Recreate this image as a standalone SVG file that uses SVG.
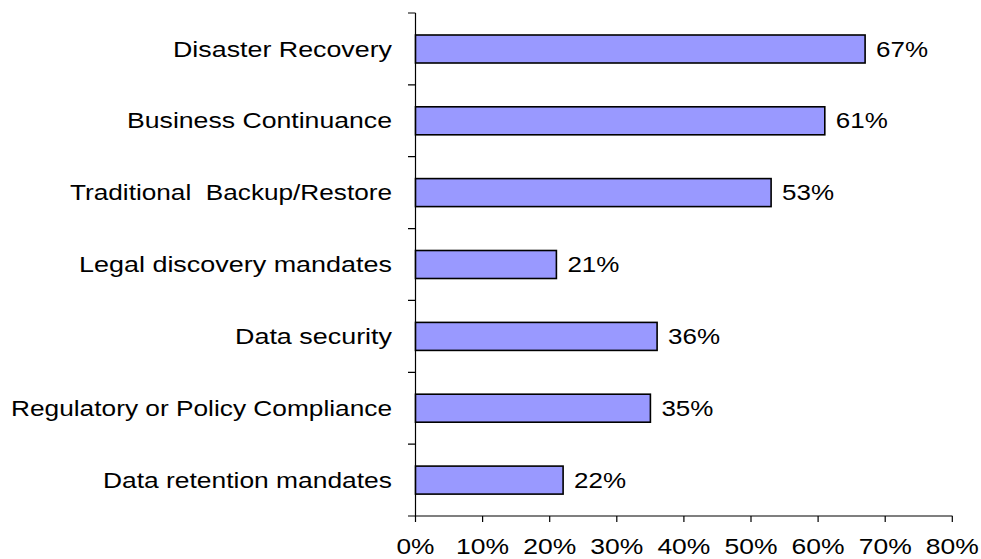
<svg xmlns="http://www.w3.org/2000/svg" width="981" height="559" viewBox="0 0 981 559">
<style>
.bar{fill:#9999FF;stroke:#000;stroke-width:1.6}
.ax{stroke:#000;stroke-width:1.2;fill:none}
.t{font-family:"Liberation Sans",Arial,sans-serif;font-size:22px;fill:#000}
.cat{text-anchor:end}
.tick{text-anchor:middle}
</style>
<rect width="981" height="559" fill="#fff"/>
<g id="axes" class="ax">
<path d="M415.5 13V516H952.5"/>
<path d="M408 13H415.5M408 84.9H415.5M408 156.7H415.5M408 228.6H415.5M408 300.4H415.5M408 372.3H415.5M408 444.1H415.5M408 516H415.5"/>
<path d="M415.5 516V522M482.6 516V522M549.7 516V522M616.8 516V522M683.9 516V522M751 516V522M818.1 516V522M885.2 516V522M952.3 516V522"/>
</g>
<g id="xlabels" class="t tick">
<text x="415.5" y="554" textLength="38" lengthAdjust="spacingAndGlyphs">0%</text>
<text x="482.6" y="554" textLength="53" lengthAdjust="spacingAndGlyphs">10%</text>
<text x="549.7" y="554" textLength="53" lengthAdjust="spacingAndGlyphs">20%</text>
<text x="616.8" y="554" textLength="53" lengthAdjust="spacingAndGlyphs">30%</text>
<text x="683.9" y="554" textLength="53" lengthAdjust="spacingAndGlyphs">40%</text>
<text x="751" y="554" textLength="53" lengthAdjust="spacingAndGlyphs">50%</text>
<text x="818.1" y="554" textLength="53" lengthAdjust="spacingAndGlyphs">60%</text>
<text x="885.2" y="554" textLength="53" lengthAdjust="spacingAndGlyphs">70%</text>
<text x="952.3" y="554" textLength="53" lengthAdjust="spacingAndGlyphs">80%</text>
</g>
<g id="bar-disaster-recovery">
<rect class="bar" x="415.5" y="35" width="449.6" height="28"/>
<text class="t cat" x="392" y="56.5" textLength="219" lengthAdjust="spacingAndGlyphs">Disaster Recovery</text>
<text class="t" x="876" y="56.5" textLength="52" lengthAdjust="spacingAndGlyphs">67%</text>
</g>
<g id="bar-business-continuance">
<rect class="bar" x="415.5" y="106.8" width="409.3" height="28"/>
<text class="t cat" x="392" y="128.3" textLength="265" lengthAdjust="spacingAndGlyphs">Business Continuance</text>
<text class="t" x="835.8" y="128.3" textLength="52" lengthAdjust="spacingAndGlyphs">61%</text>
</g>
<g id="bar-traditional-backup">
<rect class="bar" x="415.5" y="178.6" width="355.6" height="28"/>
<text class="t cat" x="392" y="200.1" textLength="322" lengthAdjust="spacingAndGlyphs" xml:space="preserve">Traditional  Backup/Restore</text>
<text class="t" x="782.1" y="200.1" textLength="52" lengthAdjust="spacingAndGlyphs">53%</text>
</g>
<g id="bar-legal-discovery">
<rect class="bar" x="415.5" y="250.5" width="140.9" height="28"/>
<text class="t cat" x="392" y="272" textLength="313" lengthAdjust="spacingAndGlyphs">Legal discovery mandates</text>
<text class="t" x="567.4" y="272" textLength="52" lengthAdjust="spacingAndGlyphs">21%</text>
</g>
<g id="bar-data-security">
<rect class="bar" x="415.5" y="322.4" width="241.6" height="28"/>
<text class="t cat" x="392" y="343.9" textLength="157" lengthAdjust="spacingAndGlyphs">Data security</text>
<text class="t" x="668.1" y="343.9" textLength="52" lengthAdjust="spacingAndGlyphs">36%</text>
</g>
<g id="bar-regulatory">
<rect class="bar" x="415.5" y="394.2" width="234.9" height="28"/>
<text class="t cat" x="392" y="415.7" textLength="381" lengthAdjust="spacingAndGlyphs">Regulatory or Policy Compliance</text>
<text class="t" x="661.4" y="415.7" textLength="52" lengthAdjust="spacingAndGlyphs">35%</text>
</g>
<g id="bar-data-retention">
<rect class="bar" x="415.5" y="466.1" width="147.6" height="28"/>
<text class="t cat" x="392" y="487.6" textLength="289" lengthAdjust="spacingAndGlyphs">Data retention mandates</text>
<text class="t" x="574.1" y="487.6" textLength="52" lengthAdjust="spacingAndGlyphs">22%</text>
</g>
</svg>
